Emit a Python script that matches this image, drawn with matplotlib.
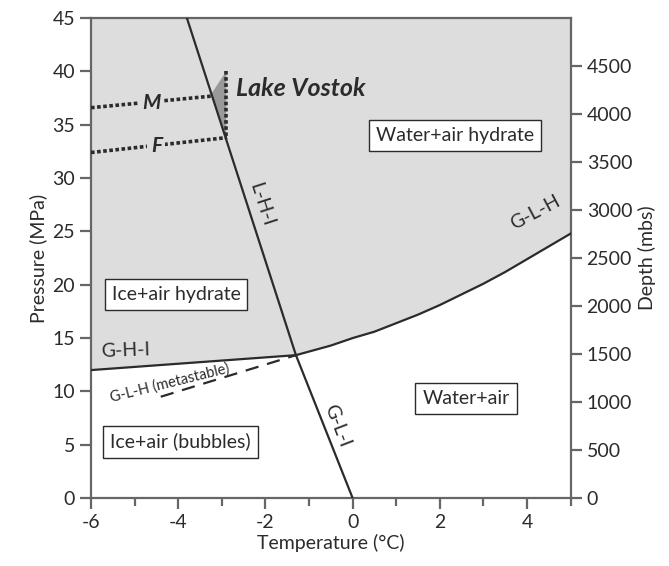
import numpy as np
import matplotlib.pyplot as plt

plt.rcParams['font.family'] = ['Lato', 'DejaVu Sans']
plt.rcParams['axes.unicode_minus'] = False

# phase boundaries (temperature in C, pressure in MPa)
lhi_t = [-3.8, -1.3]
lhi_p = [45.0, 13.4]
gli_t = [-1.3, 0.0]
gli_p = [13.4, 0.0]
ghi_t = [-6.0, -1.3]
ghi_p = [12.0, 13.4]
glh_t = [-1.3, -0.5, 0.0, 0.5, 1.0, 1.5, 2.0, 2.5, 3.0, 3.5, 4.0, 4.5, 5.0]
glh_p = [13.4, 14.3, 15.0, 15.6, 16.4, 17.2, 18.1, 19.1, 20.1, 21.2, 22.4, 23.6, 24.8]
meta_t = [-4.4, -1.3]
meta_p = [9.5, 13.4]

# Lake Vostok lines
m_t = [-6.0, -3.2]
m_p = [36.6, 37.7]
f_t = [-6.0, -2.88]
f_p = [32.4, 33.8]
vostok_t = [-2.9, -3.24, -2.9]
vostok_p = [40.0, 37.9, 33.7]

depth_ticks = [0, 500, 1000, 1500, 2000, 2500, 3000, 3500, 4000, 4500]
m_per_mpa = 111.2

grey = '#dddddd'
ink = '#2b2b2b'
axc = '#666666'
fs = 14

fig = plt.figure(figsize=(6.69, 5.66), dpi=100)
ax = fig.add_axes([0.136, 0.12, 0.717, 0.848])

# shaded hydrate region above the lower boundary
low_t = ghi_t + glh_t[1:]
low_p = ghi_p + glh_p[1:]
ax.fill_between(low_t, low_p, 45, color=grey, lw=0, zorder=0)
ax.fill(vostok_t, vostok_p, color='#999999', lw=0, zorder=1)

ax.plot(lhi_t, lhi_p, color=ink, lw=1.6, zorder=3)
ax.plot(gli_t, gli_p, color=ink, lw=1.6, zorder=3)
ax.plot(ghi_t, ghi_p, color=ink, lw=1.6, zorder=3)
ax.plot(glh_t, glh_p, color=ink, lw=1.6, zorder=3)
ax.plot(meta_t, meta_p, color=ink, lw=1.6, ls=(0, (6, 4)), zorder=3)

dots = (0, (1.0, 0.7))
ax.plot(m_t, m_p, color=ink, lw=2.6, ls=dots, zorder=3)
ax.plot(f_t, f_p, color=ink, lw=2.6, ls=dots, zorder=3)
ax.plot([vostok_t[0], vostok_t[2]], [vostok_p[0], vostok_p[2]], color=ink,
        lw=2.6, ls=dots, zorder=3)

lab = dict(facecolor=grey, edgecolor='none', pad=2.5)
ax.text(-4.62, 37.0, 'M', fontsize=15, fontweight='bold', style='italic',
        ha='center', va='center', color=ink, bbox=lab, zorder=4)
ax.text(-4.5, 33.0, 'F', fontsize=15, fontweight='bold', style='italic',
        ha='center', va='center', color=ink, bbox=lab, zorder=4)
ax.text(-2.68, 38.4, 'Lake Vostok', fontsize=18, fontweight='bold',
        style='italic', ha='left', va='center', color=ink)

box = dict(facecolor='white', edgecolor=ink, lw=1.0, pad=5)
ax.text(2.35, 34.0, 'Water+air hydrate', fontsize=fs, ha='center',
        va='center', color=ink, bbox=box)
ax.text(-4.05, 19.1, 'Ice+air hydrate', fontsize=fs, ha='center',
        va='center', color=ink, bbox=box)
ax.text(2.6, 9.3, 'Water+air', fontsize=fs, ha='center', va='center',
        color=ink, bbox=box)
ax.text(-3.95, 5.3, 'Ice+air (bubbles)', fontsize=fs, ha='center',
        va='center', color=ink, bbox=box)

ax.text(-2.1, 27.5, 'L-H-I', fontsize=fs, rotation=-72, ha='center',
        va='center', color=ink)
ax.text(-0.35, 6.8, 'G-L-I', fontsize=fs, rotation=-69, ha='center',
        va='center', color=ink)
ax.text(-5.2, 13.8, 'G-H-I', fontsize=fs, rotation=2, ha='center',
        va='center', color=ink)
ax.text(4.2, 26.8, 'G-L-H', fontsize=fs, rotation=28, ha='center',
        va='center', color=ink)
ax.text(-4.2, 10.8, 'G-L-H (metastable)', fontsize=10.5, rotation=14,
        ha='center', va='center', color=ink)

ax.set_xlim(-6, 5)
ax.set_ylim(0, 45)
ax.set_xticks(range(-6, 5, 2))
ax.set_xticks(range(-6, 6), minor=True)
ax.set_yticks(range(0, 46, 5))
ax.set_xlabel('Temperature (°C)', fontsize=fs, color=ink, labelpad=2)
ax.set_ylabel('Pressure (MPa)', fontsize=fs, color=ink, labelpad=4)

for s in ax.spines.values():
    s.set_color(axc)
    s.set_linewidth(1.6)
ax.tick_params(which='both', direction='out', color=axc, width=1.6,
               labelsize=fs, labelcolor=ink)
ax.tick_params(which='major', length=8)
ax.tick_params(which='minor', length=6)

ax2 = ax.twinx()
ax2.set_ylim(0, 45 * m_per_mpa)
ax2.set_yticks(depth_ticks)
ax2.set_ylabel('Depth (mbs)', fontsize=fs, color=ink, labelpad=4)
for s in ax2.spines.values():
    s.set_visible(False)
ax2.tick_params(direction='out', color=axc, width=1.6, length=8,
                labelsize=fs, labelcolor=ink)

fig.savefig('out.png', dpi=100, facecolor='white')
